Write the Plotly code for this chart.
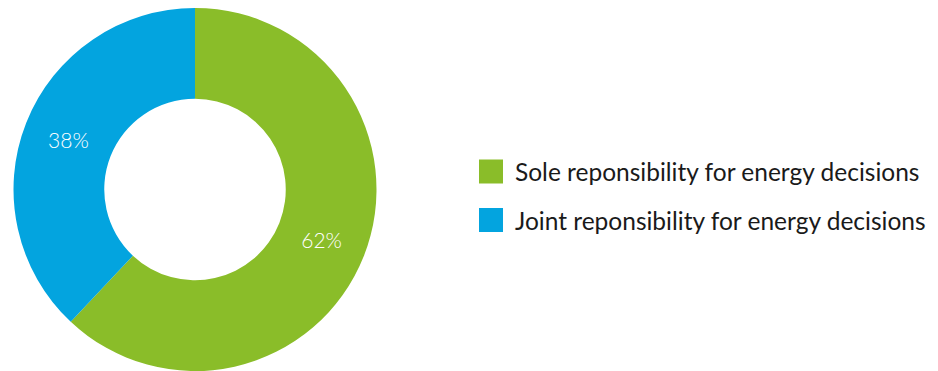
import plotly.graph_objects as go

# Shares of respondents by decision-making role
labels = ["Sole reponsibility for energy decisions",
          "Joint reponsibility for energy decisions"]
values = [62, 38]
colors = ["#8ABD29", "#03A4DF"]

W, H = 938, 371
M_TOP = 8
PLOT_H = H - M_TOP


def px_x(x):
    return x / W


def px_y(y):
    # pixel row measured from the top of the page -> paper coordinate
    return (H - y) / PLOT_H


fig = go.Figure()

fig.add_trace(go.Pie(
    labels=labels,
    values=values,
    hole=0.5,
    sort=False,
    direction="clockwise",
    rotation=0,
    marker=dict(colors=colors, line=dict(width=0)),
    textinfo="percent",
    textposition="inside",
    insidetextorientation="horizontal",
    textfont=dict(family="Lato", size=21, color="white", weight=300),
    domain=dict(x=[px_x(195 - PLOT_H / 2), px_x(195 + PLOT_H / 2)], y=[0, 1]),
    showlegend=False,
    hoverinfo="label+percent",
))

# Legend: coloured squares with labels to their right
row_centres = [171.5, 220]
for lab, col, yc in zip(labels, colors, row_centres):
    fig.add_shape(
        type="rect", xref="paper", yref="paper",
        x0=px_x(479), x1=px_x(503),
        y0=px_y(yc + 12), y1=px_y(yc - 12),
        fillcolor=col, line=dict(width=0),
    )
    fig.add_annotation(
        text=lab, xref="paper", yref="paper",
        x=px_x(513), y=px_y(yc), xanchor="left", yanchor="middle",
        showarrow=False,
        font=dict(family="Lato", size=24.5, color="#1a1a1a"),
    )

fig.update_layout(
    width=W, height=H,
    margin=dict(l=0, r=0, t=M_TOP, b=0),
    paper_bgcolor="white",
    plot_bgcolor="white",
)

fig.write_html("out.html")
